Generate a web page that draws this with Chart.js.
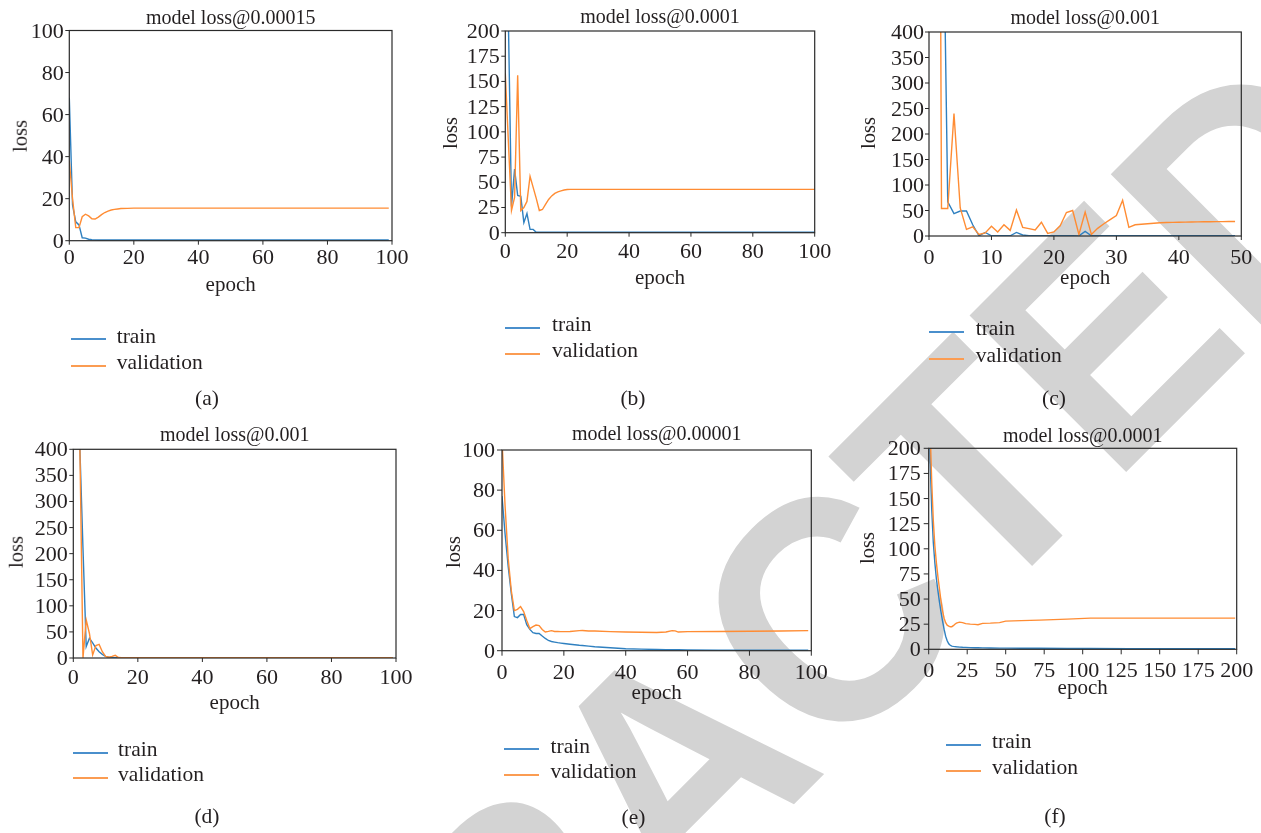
<!DOCTYPE html>
<html><head><meta charset="utf-8">
<script src="https://cdn.jsdelivr.net/npm/chart.js@4.4.0/dist/chart.umd.min.js"></script>
<style>
html,body{margin:0;padding:0;background:#fff;width:1261px;height:833px;overflow:hidden;position:relative;}
canvas{position:absolute;}
.t{position:absolute;white-space:nowrap;line-height:1;color:#231f20;font-family:"Liberation Serif","Times New Roman",serif;}
.sw{position:absolute;height:2px;width:35px;}
</style></head><body>
<canvas id="wm" width="1261" height="833" style="left:0;top:0;z-index:0"></canvas>
<script>
// ---------------- data ----------------
const titles = ["model loss@0.00015","model loss@0.0001","model loss@0.001","model loss@0.001","model loss@0.00001","model loss@0.0001"];
const panelLabels = ["(a)","(b)","(c)","(d)","(e)","(f)"];
const seriesNames = ["train","validation"];

const xTicks100 = [0,20,40,60,80,100];
const xTicks50  = [0,10,20,30,40,50];
const xTicks200 = [0,25,50,75,100,125,150,175,200];
const yTicks100 = [0,20,40,60,80,100];
const yTicks200 = [0,25,50,75,100,125,150,175,200];
const yTicks400 = [0,50,100,150,200,250,300,350,400];

// (a)
const aEpochs = [0,1,2,3,4,5,6,7,8,9,10,11,12,13,14,15,16,18,20,25,30,40,50,60,70,80,90,99];
const aTrain  = [68,17,9,7.5,1.4,1.2,0.7,0.5,0.4,0.3,0.3,0.3,0.3,0.3,0.3,0.3,0.3,0.3,0.3,0.3,0.3,0.3,0.3,0.3,0.3,0.3,0.3,0.3];
const aVal    = [38,20,6.2,6.2,11.4,12.6,11.8,10.4,10.3,11.2,12.4,13.4,14.1,14.6,14.9,15.1,15.3,15.4,15.5,15.5,15.5,15.5,15.5,15.5,15.5,15.5,15.5,15.5];
// (b)
const bEpochs = [0,1,2,3,4,5,6,7,8,9,10,11,12,13,14,15,16,17,18,19,20,21,22,25,30,40,50,60,70,80,90,100];
const bTrain  = [600,210,26,63,37,36,10,19,3.3,3.3,0.5,0.5,0.5,0.5,0.5,0.5,0.5,0.5,0.5,0.5,0.5,0.5,0.5,0.5,0.5,0.5,0.5,0.5,0.5,0.5,0.5,0.5];
const bVal    = [158,90,22,35,156,22,25,31,56,45,34,22,23,28,33,36.5,39,40.5,41.5,42.3,42.8,43,43,43,43,43,43,43,43,43,43,43];
// (c)
const cEpochs = [0,1,2,3,4,5,6,7,8,9,10,11,12,13,14,15,16,17,18,19,20,21,22,23,24,25,26,27,28,29,30,31,32,33,34,35,36,37,38,39,40,41,42,43,44,45,46,47,48,49];
const cTrain  = [2000,1500,900,67,44,49,49,22,0.5,7,0.5,0.5,0.5,0.5,7,2,0.5,0.5,0.5,0.5,0.5,0.5,0.5,0.5,0.3,9,0.5,0.5,0.5,0.5,0.5,0.5,0.5,0.5,0.5,0.5,0.5,0.5,0.5,0.5,0.5,0.5,0.5,0.5,0.5,0.5,0.5,0.5,0.5,0.5];
const cVal    = [2500,3000,54,54,240,55,13,18,3,6,19,8,22,11,51,17,14.5,12,27,5,8,20,46,50,3,47,3,15,24,32,40,70,17,22,23,24,25,26,26.5,26.8,27,27.2,27.4,27.6,27.8,28,28.1,28.2,28.3,28.4];
// (d)
const dEpochs = [0,1,2,3,4,5,6,7,8,9,10,11,12,13,14,15,16,18,20,25,30,40,50,60,70,80,90,99];
const dTrain  = [2000,800,410,210,22,38,29,19,12,7,3,1.5,1,0.6,0.5,0.5,0.5,0.5,0.5,0.5,0.5,0.5,0.5,0.5,0.5,0.5,0.5,0.5];
const dVal    = [2500,1500,420,0.3,73,47,6,24,26,12,3,1.5,3,5,1,0.5,0.5,0.5,0.5,0.5,0.5,0.5,0.5,0.5,0.5,0.5,0.5,0.5];
// (e)
const eEpochs = [0,1,2,3,4,5,6,7,8,9,10,11,12,13,14,15,16,17,18,19,20,22,25,26,28,30,35,40,45,50,53,55,56,57,60,70,80,90,99];
const eTrain  = [77,58,42,28.5,17,16.5,18,18,13,10.6,9,8.6,8.6,7.3,6.1,5.1,4.6,4.3,4.0,3.8,3.6,3.2,2.7,2.6,2.3,2.0,1.5,1.0,0.8,0.6,0.5,0.5,0.5,0.5,0.4,0.3,0.3,0.3,0.3];
const eVal    = [105,72,46,30,20,20.6,22,19.5,15,11,12,12.8,12.5,10.6,9.3,9.6,10,9.6,9.6,9.5,9.5,9.6,10,10.1,9.8,9.8,9.5,9.3,9.2,9.1,9.3,10,9.9,9.3,9.5,9.6,9.7,9.8,10];
// (f)
const fEpochs = [0,1,2,3,4,5,6,7,8,9,10,11,12,13,14,15,16,17,18,20,22,24,27,30,32,35,40,46,50,60,72,90,105,130,160,199];
const fTrain  = [300,185,138,106,86,70,58,47,37,28,20,13,8.5,5.5,4,3.2,2.9,2.7,2.5,2.2,2.0,1.9,1.7,1.5,1.5,1.4,1.3,1.2,1.2,1.1,1.0,0.9,0.8,0.7,0.6,0.5];
const fVal    = [350,215,165,128,103,86,72,60,48,38,31,26.5,24,23,22.5,22.5,23.5,25,26,27,26.5,25.5,25,24.8,24.5,25.8,26,26.5,28,28.5,29,30,31,31,31,31];

// ---------------- style / layout ----------------
const BLUE = '#2f80c0', ORANGE = '#ff8c33', INK = '#231f20';
const LBLUE = '#4a8fcc', LORANGE = '#fb9c52';
const K = 1.05; // slight horizontal stretch of tick digits

// watermark (background)
(function(){
  const c = document.getElementById('wm'), ctx = c.getContext('2d');
  ctx.fillStyle = '#d3d3d3';
  ctx.font = 'bold 322px "Liberation Sans", Arial, sans-serif';
  try { ctx.fontKerning = 'none'; } catch(e) {}
  ctx.translate(100.4, 1497.8);
  ctx.rotate(-Math.PI/4);
  ctx.scale(0.93, 1);
  ctx.fillText('RETRACTED', 0, 0);
})();

function txt(s, x, base, size, o) {
  o = o || {};
  const d = document.createElement('div');
  d.className = 't';
  d.textContent = s;
  d.style.fontSize = size + 'px';
  d.style.zIndex = 3;
  if (o.rot) {
    d.style.left = (x - 0.3375*size) + 'px';
    d.style.top = base + 'px';
    d.style.transform = 'translate(-50%,-50%) rotate(-90deg)';
  } else {
    d.style.left = x + 'px';
    d.style.top = (base - 0.8375*size) + 'px';
    if (o.center) d.style.transform = 'translateX(-50%)';
  }
  document.body.appendChild(d);
}

function makeFrame(xTicks, yTicks, p) {
  return {
    id: 'frame',
    afterDatasetsDraw(chart) {
      const ctx = chart.ctx, a = chart.chartArea, xs = chart.scales.x, ys = chart.scales.y;
      ctx.save();
      ctx.strokeStyle = '#2a2a2a'; ctx.lineWidth = 1.2;
      ctx.strokeRect(a.left, a.top, a.right - a.left, a.bottom - a.top);
      ctx.lineWidth = 1;
      ctx.beginPath();
      xTicks.forEach(v => { const q = xs.getPixelForValue(v); ctx.moveTo(q, a.bottom); ctx.lineTo(q, a.bottom + p.tick); });
      yTicks.forEach(v => { const q = ys.getPixelForValue(v); ctx.moveTo(a.left, q); ctx.lineTo(a.left - p.tick, q); });
      ctx.stroke();
      ctx.fillStyle = INK;
      ctx.font = '21px "Liberation Serif", serif';
      ctx.textBaseline = 'alphabetic';
      xTicks.forEach(v => {
        const q = xs.getPixelForValue(v);
        ctx.save(); ctx.translate(q, a.bottom + p.xlb); ctx.scale(K, 1);
        ctx.textAlign = 'center'; ctx.fillText(String(v), 0, 0); ctx.restore();
      });
      yTicks.forEach(v => {
        const q = ys.getPixelForValue(v);
        ctx.save(); ctx.translate(a.left - p.ylg, q + 7); ctx.scale(K, 1);
        ctx.textAlign = 'right'; ctx.fillText(String(v), 0, 0); ctx.restore();
      });
      ctx.restore();
    }
  };
}

function xy(ep, vals) { return ep.map((e, i) => ({x: e, y: vals[i]})); }

function panel(p) {
  const padL = 62, padT = 10, padR = 28, padB = 36;
  const cl = Math.floor(p.L) - padL, ct = Math.floor(p.T) - padT;
  const cw = Math.ceil(p.R) + padR - cl, ch = Math.ceil(p.B) + padB - ct;
  const cv = document.createElement('canvas');
  cv.width = cw; cv.height = ch;
  cv.style.left = cl + 'px'; cv.style.top = ct + 'px'; cv.style.zIndex = 2;
  document.body.appendChild(cv);
  new Chart(cv, {
    type: 'line',
    data: { datasets: [
      {label: seriesNames[0], data: xy(p.ep, p.tr), borderColor: BLUE, borderWidth: 1.4, pointRadius: 0, tension: 0, fill: false, order: 1},
      {label: seriesNames[1], data: xy(p.ep, p.va), borderColor: ORANGE, borderWidth: 1.4, pointRadius: 0, tension: 0, fill: false, order: 0}
    ]},
    options: {
      responsive: false, animation: false, events: [],
      layout: {padding: {left: p.L - cl, top: p.T - ct, right: cl + cw - p.R, bottom: ct + ch - p.B}},
      plugins: {legend: {display: false}, tooltip: {enabled: false}, title: {display: false}},
      scales: {
        x: {type: 'linear', min: 0, max: p.xMax, grid: {display: false, drawTicks: false}, border: {display: false}, ticks: {display: false}},
        y: {type: 'linear', min: 0, max: p.yMax, grid: {display: false, drawTicks: false}, border: {display: false}, ticks: {display: false}}
      }
    },
    plugins: [makeFrame(p.xt, p.yt, p)]
  });
  const cx = (p.L + p.R) / 2;
  txt(p.title, cx, p.titleB, 20, {center: true});
  txt('epoch', cx, p.epochB, 21, {center: true});
  txt('loss', p.lossX, p.lossY, 20.5, {rot: true});
  [[LBLUE, p.lg[2], seriesNames[0]], [LORANGE, p.lg[3], seriesNames[1]]].forEach(([col, y, name]) => {
    const s = document.createElement('div');
    s.className = 'sw'; s.style.background = col; s.style.left = Math.round(p.lg[0]) + 'px'; s.style.top = (Math.round(y) - 1) + 'px'; s.style.zIndex = 3;
    document.body.appendChild(s);
    txt(name, p.lg[1], y + 4.5, 21.5);
  });
  txt(p.label, p.lab[0], p.lab[1], 21.5, {center: true});
}

const panels = [
  {L: 69.3, R: 392, T: 30.5, B: 240.7, xMax: 100, yMax: 100, xt: xTicks100, yt: yTicks100, ep: aEpochs, tr: aTrain, va: aVal,
   tick: 4, xlb: 23.5, ylg: 5.5,
   title: titles[0], titleB: 23.3, epochB: 292, lossX: 26.7, lossY: 135.7, lg: [70.7, 116.7, 339.3, 365.7], label: panelLabels[0], lab: [207, 406]},
  {L: 505.3, R: 814.7, T: 31, B: 232.7, xMax: 100, yMax: 200, xt: xTicks100, yt: yTicks200, ep: bEpochs, tr: bTrain, va: bVal,
   tick: 4, xlb: 25.5, ylg: 5.5,
   title: titles[1], titleB: 22.7, epochB: 285, lossX: 456.7, lossY: 132.7, lg: [505, 552, 328, 354], label: panelLabels[1], lab: [633, 406]},
  {L: 929, R: 1241.3, T: 32, B: 236, xMax: 50, yMax: 400, xt: xTicks50, yt: yTicks400, ep: cEpochs, tr: cTrain, va: cVal,
   tick: 4, xlb: 28, ylg: 5,
   title: titles[2], titleB: 23.3, epochB: 285, lossX: 875, lossY: 133, lg: [929, 975.7, 332, 359], label: panelLabels[2], lab: [1054, 406]},
  {L: 73.3, R: 396, T: 449.3, B: 658, xMax: 100, yMax: 400, xt: xTicks100, yt: yTicks400, ep: dEpochs, tr: dTrain, va: dVal,
   tick: 4, xlb: 25.5, ylg: 5.5,
   title: titles[3], titleB: 440.7, epochB: 710, lossX: 22.7, lossY: 551.7, lg: [73, 118, 753, 778], label: panelLabels[3], lab: [207, 824]},
  {L: 502, R: 811.3, T: 450, B: 650.7, xMax: 100, yMax: 100, xt: xTicks100, yt: yTicks100, ep: eEpochs, tr: eTrain, va: eVal,
   tick: 5, xlb: 28, ylg: 7,
   title: titles[4], titleB: 440, epochB: 700, lossX: 460, lossY: 551.7, lg: [504, 550.5, 749.3, 775], label: panelLabels[4], lab: [633.5, 825]},
  {L: 928.7, R: 1236.7, T: 448.3, B: 649.3, xMax: 200, yMax: 200, xt: xTicks200, yt: yTicks200, ep: fEpochs, tr: fTrain, va: fVal,
   tick: 5, xlb: 27.5, ylg: 8,
   title: titles[5], titleB: 441.7, epochB: 694.5, lossX: 874.3, lossY: 548, lg: [946, 992, 745, 771], label: panelLabels[5], lab: [1055, 824]}
];
panels.forEach(panel);
</script>
</body></html>
